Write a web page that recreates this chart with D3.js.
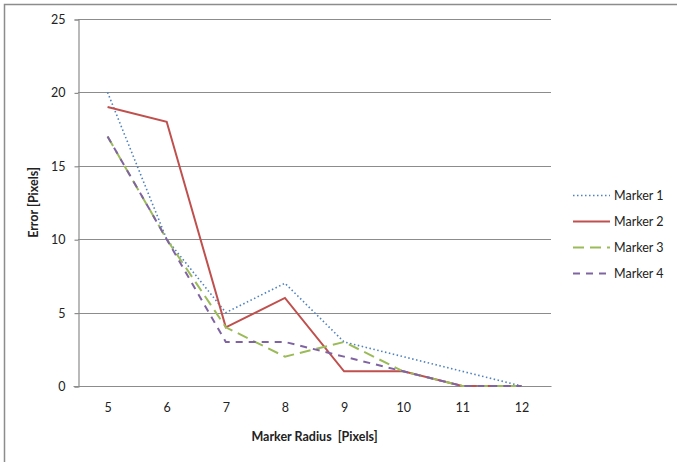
<!DOCTYPE html>
<html>
<head>
<meta charset="utf-8">
<script src="https://cdn.jsdelivr.net/npm/d3@7"></script>
<style>
  html, body { margin: 0; padding: 0; background: #fff; }
  svg { display: block; }
  text { font-family: Lato, "Open Sans", sans-serif; fill: #222; }
</style>
</head>
<body>
<svg id="chart" width="677" height="462"></svg>
<script>
// Marker radius categories (pixels)
const radii = [5, 6, 7, 8, 9, 10, 11, 12];

// Error per marker type (pixels)
const marker1 = [20, 10, 5, 7, 3, 2, 1, 0];
const marker2 = [19, 18, 4, 6, 1, 1, 0, 0];
const marker3 = [17, 10, 4, 2, 3, 1, 0, 0];
const marker4 = [17, 10, 3, 3, 2, 1, 0, 0];

const seriesNames = ["Marker 1", "Marker 2", "Marker 3", "Marker 4"];
const yTicks = [0, 5, 10, 15, 20, 25];

const series = [
  { name: seriesNames[0], values: marker1, color: "#4F81BD", dash: "1.5,2.5", width: 1.6 },
  { name: seriesNames[1], values: marker2, color: "#C0504D", dash: null, width: 2 },
  { name: seriesNames[2], values: marker3, color: "#9BBB59", dash: "11,6", width: 2 },
  { name: seriesNames[3], values: marker4, color: "#8064A2", dash: "7,6", width: 2 }
];

const fontSize = "12.5px";
const svg = d3.select("#chart");

// Outer chart frame
svg.append("rect")
  .attr("x", 4.5).attr("y", 4.5)
  .attr("width", 720).attr("height", 520)
  .attr("fill", "none")
  .attr("stroke", "#8c8c8c")
  .attr("stroke-width", 1.5);

const plot = { left: 78, right: 551, top: 19, bottom: 386 };

const x = d3.scaleBand()
  .domain(radii)
  .range([plot.left, plot.right]);

const y = d3.scaleLinear()
  .domain([0, 25])
  .range([plot.bottom, plot.top]);

// Horizontal gridlines
svg.append("g")
  .selectAll("line")
  .data(yTicks.filter(d => d > 0))
  .join("line")
  .attr("x1", plot.left).attr("x2", plot.right)
  .attr("y1", d => Math.round(y(d)) + 0.5)
  .attr("y2", d => Math.round(y(d)) + 0.5)
  .attr("stroke", "#8c8c8c")
  .attr("stroke-width", 1.2);

// Y axis
const yAxis = svg.append("g")
  .attr("transform", `translate(${plot.left + 0.5},0.5)`)
  .call(d3.axisLeft(y).tickValues(yTicks).tickSize(4).tickPadding(9).tickFormat(d3.format("d")));
yAxis.select(".domain").attr("stroke", "#8c8c8c").attr("stroke-width", 1.2);
yAxis.selectAll(".tick line").attr("stroke", "#8c8c8c").attr("stroke-width", 1.2);
yAxis.selectAll(".tick text")
  .style("font-family", "Lato, 'Open Sans', sans-serif")
  .style("font-size", fontSize)
  .attr("fill", "#222");

// X axis
const xAxis = svg.append("g")
  .attr("transform", `translate(0.5,${Math.round(y(0)) + 0.5})`)
  .call(d3.axisBottom(x).tickSize(0).tickPadding(17));
xAxis.select(".domain").attr("stroke", "#8c8c8c").attr("stroke-width", 1.2)
  .attr("d", `M${plot.left - 5},0H${plot.right}`);
xAxis.selectAll(".tick text")
  .style("font-family", "Lato, 'Open Sans', sans-serif")
  .style("font-size", fontSize)
  .attr("fill", "#222");

// Series lines
const line = d3.line()
  .x((d, i) => x(radii[i]) + x.bandwidth() / 2)
  .y(d => y(d));

svg.append("g")
  .selectAll("path")
  .data(series)
  .join("path")
  .attr("d", d => line(d.values))
  .attr("fill", "none")
  .attr("stroke", d => d.color)
  .attr("stroke-width", d => d.width)
  .attr("stroke-dasharray", d => d.dash)
  .attr("stroke-linejoin", "miter");

// Axis titles
svg.append("text")
  .attr("x", (plot.left + plot.right) / 2)
  .attr("y", 441)
  .attr("text-anchor", "middle")
  .style("font-size", fontSize)
  .style("font-weight", "bold")
  .style("white-space", "pre")
  .text("Marker Radius  [Pixels]");

svg.append("text")
  .attr("transform", `translate(38,${(plot.top + plot.bottom) / 2}) rotate(-90)`)
  .attr("text-anchor", "middle")
  .style("font-size", fontSize)
  .style("font-weight", "bold")
  .text("Error [Pixels]");

// Legend
const legend = svg.append("g")
  .selectAll("g")
  .data(series)
  .join("g")
  .attr("transform", (d, i) => `translate(573,${195 + i * 26})`);

legend.append("line")
  .attr("x1", 0).attr("x2", 37)
  .attr("y1", 0.5).attr("y2", 0.5)
  .attr("stroke", d => d.color)
  .attr("stroke-width", d => d.width)
  .attr("stroke-dasharray", d => d.dash);

legend.append("text")
  .attr("x", 41)
  .attr("y", 4.5)
  .style("font-size", fontSize)
  .text(d => d.name);
</script>
</body>
</html>
